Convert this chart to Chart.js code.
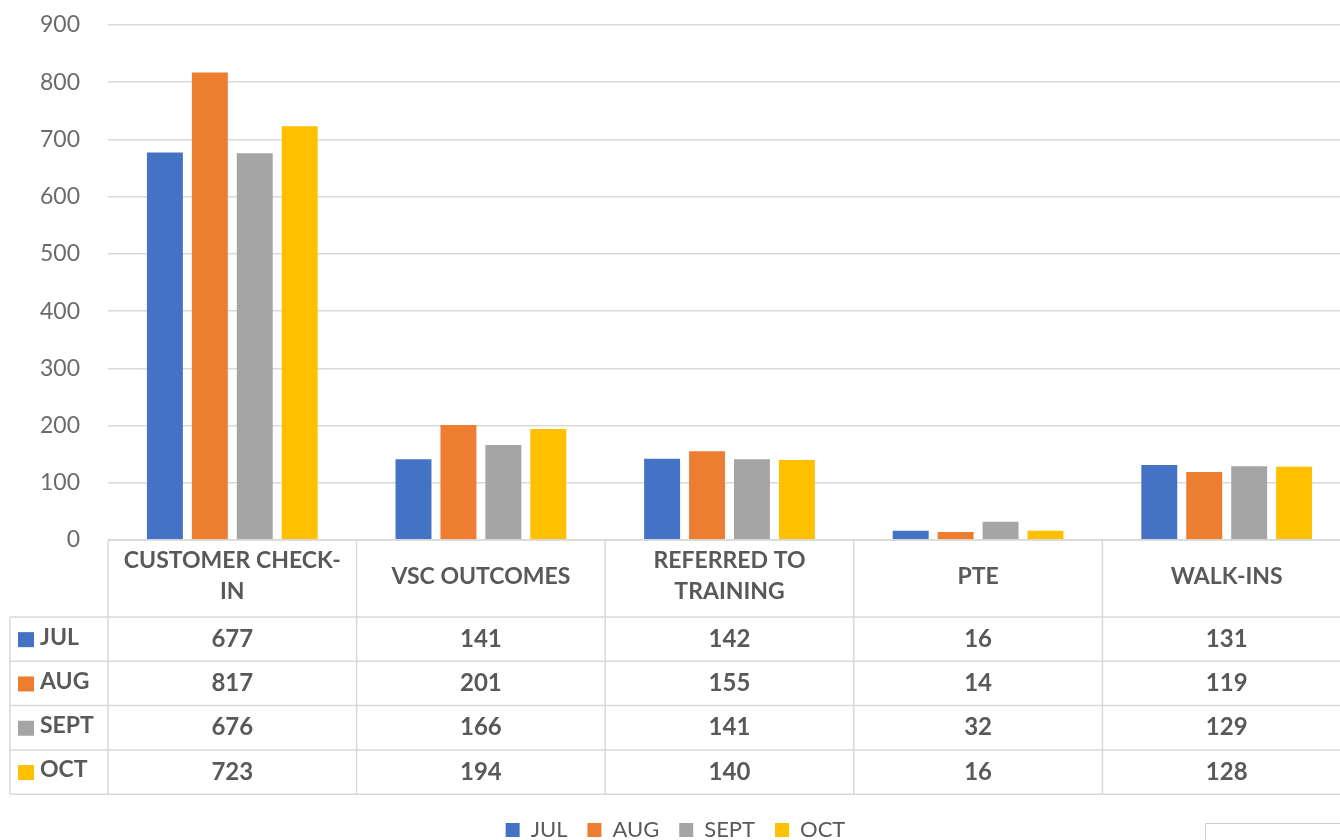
<!DOCTYPE html>
<html>
<head>
<meta charset="utf-8">
<script src="https://cdn.jsdelivr.net/npm/chart.js@4"></script>
<style>
  html, body { margin: 0; padding: 0; background: #fff; overflow: hidden; }
  #wrap { position: relative; width: 1360px; height: 840px; }
  #corner { position: absolute; left: 1205px; top: 823px; width: 200px; height: 40px; border: 1px solid #cfcfcf; }
</style>
</head>
<body>
<div id="wrap">
  <canvas id="chart" width="1360" height="840"></canvas>
  <div id="corner"></div>
</div>
<script>
/* ── Datos ── */
const categories = [['CUSTOMER CHECK-', 'IN'], 'VSC OUTCOMES', ['REFERRED TO', 'TRAINING'], 'PTE', 'WALK-INS'];
const months     = ['JUL', 'AUG', 'SEPT', 'OCT'];
const julValues  = [677, 141, 142, 16, 131];
const augValues  = [817, 201, 155, 14, 119];
const septValues = [676, 166, 141, 32, 129];
const octValues  = [723, 194, 140, 16, 128];
const yTicks     = [0, 100, 200, 300, 400, 500, 600, 700, 800, 900];

const colors   = ['#4472C4', '#ED7D31', '#A5A5A5', '#FFC000'];
const series   = [julValues, augValues, septValues, octValues];
const textClr  = '#595959';
const lineClr  = '#d9d9d9';
const FONT     = 'Lato, "Open Sans", sans-serif';

/* ── Tabla de datos bajo el eje X ── */
const dataTable = {
  id: 'dataTable',
  afterDraw(chart) {
    const { ctx, chartArea, scales: { x } } = chart;
    const n = categories.length;
    const colW = (chartArea.right - chartArea.left) / n;
    const top = chartArea.bottom;
    const headH = 77, rowH = 44.3;
    const left = 10;
    const bottom = top + headH + rowH * months.length;
    const edges = categories.map((_, i) => x.getPixelForValue(i) - colW / 2);
    edges.push(x.getPixelForValue(n - 1) + colW / 2);

    ctx.save();
    ctx.strokeStyle = lineClr;
    ctx.lineWidth = 1.5;
    ctx.beginPath();
    // horizontales
    ctx.moveTo(edges[0], top); ctx.lineTo(edges[n], top);
    for (let r = 0; r <= months.length; r++) {
      const y = top + headH + r * rowH;
      ctx.moveTo(left, y); ctx.lineTo(edges[n], y);
    }
    // verticales
    ctx.moveTo(left, top + headH); ctx.lineTo(left, bottom);
    edges.forEach(ex => { ctx.moveTo(ex, top); ctx.lineTo(ex, bottom); });
    ctx.stroke();

    ctx.fillStyle = textClr;
    ctx.textAlign = 'center';
    ctx.textBaseline = 'middle';
    ctx.font = `bold 23px ${FONT}`;
    categories.forEach((c, i) => {
      const cx = x.getPixelForValue(i);
      const lines = Array.isArray(c) ? c : [c];
      const mid = top + headH / 2;
      lines.forEach((ln, k) => {
        ctx.fillText(ln, cx, mid - 2 + (k - (lines.length - 1) / 2) * 31);
      });
    });

    months.forEach((m, r) => {
      const cy = top + headH + r * rowH + rowH / 2;
      ctx.fillStyle = colors[r];
      ctx.fillRect(18, cy - 7, 16, 15);
      ctx.fillStyle = textClr;
      ctx.textAlign = 'left';
      ctx.font = `bold 23px ${FONT}`;
      ctx.fillText(m, 40, cy - 2);
      ctx.textAlign = 'center';
      ctx.font = `bold 24px ${FONT}`;
      series[r].forEach((v, i) => ctx.fillText(String(v), x.getPixelForValue(i), cy));
    });
    ctx.restore();
  }
};

new Chart(document.getElementById('chart'), {
  type: 'bar',
  data: {
    labels: categories,
    datasets: months.map((m, i) => ({
      label: m,
      data: series[i],
      backgroundColor: colors[i],
      borderWidth: 0,
      categoryPercentage: 0.723,
      barPercentage: 0.8,
    })),
  },
  options: {
    responsive: false,
    animation: false,
    layout: { padding: { top: 25, left: 0, right: 9, bottom: -11 } },
    plugins: {
      tooltip: { enabled: false },
      legend: {
        position: 'bottom',
        labels: {
          color: textClr,
          font: { family: FONT, size: 22 },
          boxWidth: 14,
          boxHeight: 14,
          padding: 20,
        },
      },
    },
    scales: {
      x: {
        ticks: { display: false },
        grid: { display: false },
        border: { display: false },
        afterFit: s => { s.height = 259; },
      },
      y: {
        min: 0,
        max: 900,
        afterBuildTicks: s => { s.ticks = yTicks.map(v => ({ value: v })); },
        ticks: { color: '#6b6b6b', font: { family: FONT, size: 23 }, padding: 28 },
        grid: { color: lineClr, lineWidth: 1.5, drawTicks: false },
        border: { display: false },
        afterFit: s => { s.width = 108; s.paddingTop = 0; s.paddingBottom = 0; },
      },
    },
  },
  plugins: [dataTable],
});
</script>
</body>
</html>
